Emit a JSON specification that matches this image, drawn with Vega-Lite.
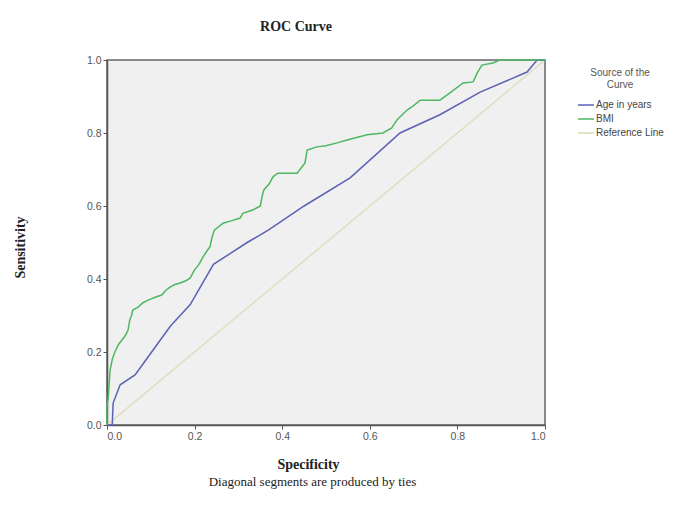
{
  "$schema": "https://vega.github.io/schema/vega-lite/v6.json",
  "autosize": "none",
  "width": 438,
  "height": 365,
  "padding": {"left": 107, "top": 60, "right": 129, "bottom": 99},
  "background": "white",
  "title": {"text": "ROC Curve", "font": "Liberation Serif", "fontSize": 14, "fontWeight": "bold", "color": "#222", "anchor": "middle", "dx": -30, "offset": 21, "frame": "group"},
  "config": {
    "view": {"fill": "#f0f0f0", "stroke": "#666", "strokeWidth": 1.5},
    "axis": {"domainColor": "#555", "domainWidth": 1.5, "tickColor": "#555", "tickSize": 4, "labelFont": "Liberation Sans", "labelFontSize": 10.5, "labelColor": "#555", "labelPadding": 2, "grid": false}
  },
  "data": {"values": [
    {"series": "Reference Line", "i": 0, "x": 0, "y": 0},
    {"series": "Reference Line", "i": 1, "x": 1, "y": 1},
    {"series": "Age in years", "i": 0, "x": 0, "y": 0},
    {"series": "Age in years", "i": 1, "x": 0.012, "y": 0},
    {"series": "Age in years", "i": 2, "x": 0.014, "y": 0.06},
    {"series": "Age in years", "i": 3, "x": 0.03, "y": 0.11},
    {"series": "Age in years", "i": 4, "x": 0.064, "y": 0.137},
    {"series": "Age in years", "i": 5, "x": 0.09, "y": 0.18},
    {"series": "Age in years", "i": 6, "x": 0.144, "y": 0.27},
    {"series": "Age in years", "i": 7, "x": 0.19, "y": 0.33},
    {"series": "Age in years", "i": 8, "x": 0.243, "y": 0.44},
    {"series": "Age in years", "i": 9, "x": 0.32, "y": 0.5},
    {"series": "Age in years", "i": 10, "x": 0.37, "y": 0.535},
    {"series": "Age in years", "i": 11, "x": 0.45, "y": 0.6},
    {"series": "Age in years", "i": 12, "x": 0.555, "y": 0.677},
    {"series": "Age in years", "i": 13, "x": 0.669, "y": 0.8},
    {"series": "Age in years", "i": 14, "x": 0.76, "y": 0.85},
    {"series": "Age in years", "i": 15, "x": 0.852, "y": 0.912},
    {"series": "Age in years", "i": 16, "x": 0.959, "y": 0.967},
    {"series": "Age in years", "i": 17, "x": 0.982, "y": 1.0},
    {"series": "Age in years", "i": 18, "x": 1, "y": 1},
    {"series": "BMI", "i": 0, "x": 0, "y": 0},
    {"series": "BMI", "i": 1, "x": 0, "y": 0.05},
    {"series": "BMI", "i": 2, "x": 0.003, "y": 0.077},
    {"series": "BMI", "i": 3, "x": 0.007, "y": 0.15},
    {"series": "BMI", "i": 4, "x": 0.012, "y": 0.18},
    {"series": "BMI", "i": 5, "x": 0.018, "y": 0.2},
    {"series": "BMI", "i": 6, "x": 0.026, "y": 0.22},
    {"series": "BMI", "i": 7, "x": 0.034, "y": 0.233},
    {"series": "BMI", "i": 8, "x": 0.042, "y": 0.245},
    {"series": "BMI", "i": 9, "x": 0.048, "y": 0.26},
    {"series": "BMI", "i": 10, "x": 0.052, "y": 0.288},
    {"series": "BMI", "i": 11, "x": 0.056, "y": 0.3},
    {"series": "BMI", "i": 12, "x": 0.059, "y": 0.315},
    {"series": "BMI", "i": 13, "x": 0.071, "y": 0.323},
    {"series": "BMI", "i": 14, "x": 0.082, "y": 0.335},
    {"series": "BMI", "i": 15, "x": 0.094, "y": 0.342},
    {"series": "BMI", "i": 16, "x": 0.11, "y": 0.35},
    {"series": "BMI", "i": 17, "x": 0.125, "y": 0.356},
    {"series": "BMI", "i": 18, "x": 0.135, "y": 0.37},
    {"series": "BMI", "i": 19, "x": 0.144, "y": 0.378},
    {"series": "BMI", "i": 20, "x": 0.155, "y": 0.385},
    {"series": "BMI", "i": 21, "x": 0.167, "y": 0.389},
    {"series": "BMI", "i": 22, "x": 0.18, "y": 0.395},
    {"series": "BMI", "i": 23, "x": 0.19, "y": 0.403},
    {"series": "BMI", "i": 24, "x": 0.2, "y": 0.425},
    {"series": "BMI", "i": 25, "x": 0.21, "y": 0.44},
    {"series": "BMI", "i": 26, "x": 0.219, "y": 0.46},
    {"series": "BMI", "i": 27, "x": 0.23, "y": 0.48},
    {"series": "BMI", "i": 28, "x": 0.235, "y": 0.488},
    {"series": "BMI", "i": 29, "x": 0.24, "y": 0.515},
    {"series": "BMI", "i": 30, "x": 0.245, "y": 0.534},
    {"series": "BMI", "i": 31, "x": 0.265, "y": 0.553},
    {"series": "BMI", "i": 32, "x": 0.285, "y": 0.56},
    {"series": "BMI", "i": 33, "x": 0.304, "y": 0.567},
    {"series": "BMI", "i": 34, "x": 0.31, "y": 0.58},
    {"series": "BMI", "i": 35, "x": 0.333, "y": 0.589},
    {"series": "BMI", "i": 36, "x": 0.35, "y": 0.6},
    {"series": "BMI", "i": 37, "x": 0.354, "y": 0.625},
    {"series": "BMI", "i": 38, "x": 0.358, "y": 0.644},
    {"series": "BMI", "i": 39, "x": 0.37, "y": 0.66},
    {"series": "BMI", "i": 40, "x": 0.379, "y": 0.68},
    {"series": "BMI", "i": 41, "x": 0.39, "y": 0.69},
    {"series": "BMI", "i": 42, "x": 0.41, "y": 0.69},
    {"series": "BMI", "i": 43, "x": 0.434, "y": 0.69},
    {"series": "BMI", "i": 44, "x": 0.452, "y": 0.718},
    {"series": "BMI", "i": 45, "x": 0.457, "y": 0.753},
    {"series": "BMI", "i": 46, "x": 0.479, "y": 0.762},
    {"series": "BMI", "i": 47, "x": 0.5, "y": 0.765},
    {"series": "BMI", "i": 48, "x": 0.525, "y": 0.773},
    {"series": "BMI", "i": 49, "x": 0.548, "y": 0.781},
    {"series": "BMI", "i": 50, "x": 0.594, "y": 0.795},
    {"series": "BMI", "i": 51, "x": 0.63, "y": 0.8},
    {"series": "BMI", "i": 52, "x": 0.65, "y": 0.814},
    {"series": "BMI", "i": 53, "x": 0.662, "y": 0.836},
    {"series": "BMI", "i": 54, "x": 0.685, "y": 0.863},
    {"series": "BMI", "i": 55, "x": 0.7, "y": 0.875},
    {"series": "BMI", "i": 56, "x": 0.715, "y": 0.89},
    {"series": "BMI", "i": 57, "x": 0.76, "y": 0.89},
    {"series": "BMI", "i": 58, "x": 0.783, "y": 0.91},
    {"series": "BMI", "i": 59, "x": 0.813, "y": 0.937},
    {"series": "BMI", "i": 60, "x": 0.836, "y": 0.94},
    {"series": "BMI", "i": 61, "x": 0.845, "y": 0.964},
    {"series": "BMI", "i": 62, "x": 0.856, "y": 0.986},
    {"series": "BMI", "i": 63, "x": 0.881, "y": 0.992},
    {"series": "BMI", "i": 64, "x": 0.897, "y": 1.0},
    {"series": "BMI", "i": 65, "x": 1, "y": 1}
  ]},
  "resolve": {"axis": {"x": "independent"}},
  "layer": [
    {
      "transform": [{"filter": "datum.series === 'Reference Line'"}],
      "mark": {"type": "line", "strokeWidth": 1.2},
      "encoding": {
        "x": {"field": "x", "type": "quantitative", "scale": {"domain": [0, 1], "nice": false},
          "axis": {"orient": "bottom", "title": "Diagonal segments are produced by ties", "labels": false, "ticks": false, "domain": false, "titleFont": "Liberation Serif", "titleFontSize": 13, "titleFontWeight": "normal", "titleColor": "#222", "titleX": 205, "titleY": 56, "titleBaseline": "middle", "titleAlign": "center"}},
        "y": {"field": "y", "type": "quantitative", "scale": {"domain": [0, 1], "nice": false},
          "axis": {"values": [0, 0.2, 0.4, 0.6, 0.8, 1], "format": ".1f", "title": "Sensitivity", "titleFont": "Liberation Serif", "titleFontSize": 14, "titleFontWeight": "bold", "titleColor": "#222", "titleAngle": -90, "titleX": -87, "titleY": 187, "titleBaseline": "middle", "titleAlign": "center"}},
        "order": {"field": "i", "type": "quantitative"},
        "color": {"field": "series", "type": "nominal"}
      }
    },
    {
      "transform": [{"filter": "datum.series !== 'Reference Line'"}],
      "mark": {"type": "line", "strokeWidth": 1.5},
      "encoding": {
        "x": {"field": "x", "type": "quantitative", "scale": {"domain": [0, 1], "nice": false},
          "axis": {"orient": "bottom", "values": [0, 0.2, 0.4, 0.6, 0.8, 1], "format": ".1f", "title": "Specificity", "titleFont": "Liberation Serif", "titleFontSize": 14, "titleFontWeight": "bold", "titleColor": "#222", "titleX": 201, "titleY": 39, "titleBaseline": "middle", "titleAlign": "center"}},
        "y": {"field": "y", "type": "quantitative", "scale": {"domain": [0, 1], "nice": false},
          "axis": {"values": [0, 0.2, 0.4, 0.6, 0.8, 1], "format": ".1f", "title": "Sensitivity", "titleFont": "Liberation Serif", "titleFontSize": 14, "titleFontWeight": "bold", "titleColor": "#222", "titleAngle": -90, "titleX": -87, "titleY": 187, "titleBaseline": "middle", "titleAlign": "center"}},
        "order": {"field": "i", "type": "quantitative"},
        "color": {"field": "series", "type": "nominal",
          "scale": {"domain": ["Age in years", "BMI", "Reference Line"], "range": ["#5b62b5", "#4db861", "#dcdab5"]},
          "legend": {"title": ["Source of the", "Curve"], "orient": "none", "legendX": 470, "legendY": 8, "symbolType": "stroke", "symbolSize": 256, "symbolStrokeWidth": 1.5, "titleFont": "Liberation Sans", "titleFontSize": 10, "titleFontWeight": "normal", "titleColor": "#555", "titleAlign": "center", "titleAnchor": "middle", "titleLineHeight": 12, "titlePadding": 6, "labelFont": "Liberation Sans", "labelFontSize": 10, "labelColor": "#444", "labelOffset": 1, "rowPadding": -3}}
      }
    }
  ]
}
